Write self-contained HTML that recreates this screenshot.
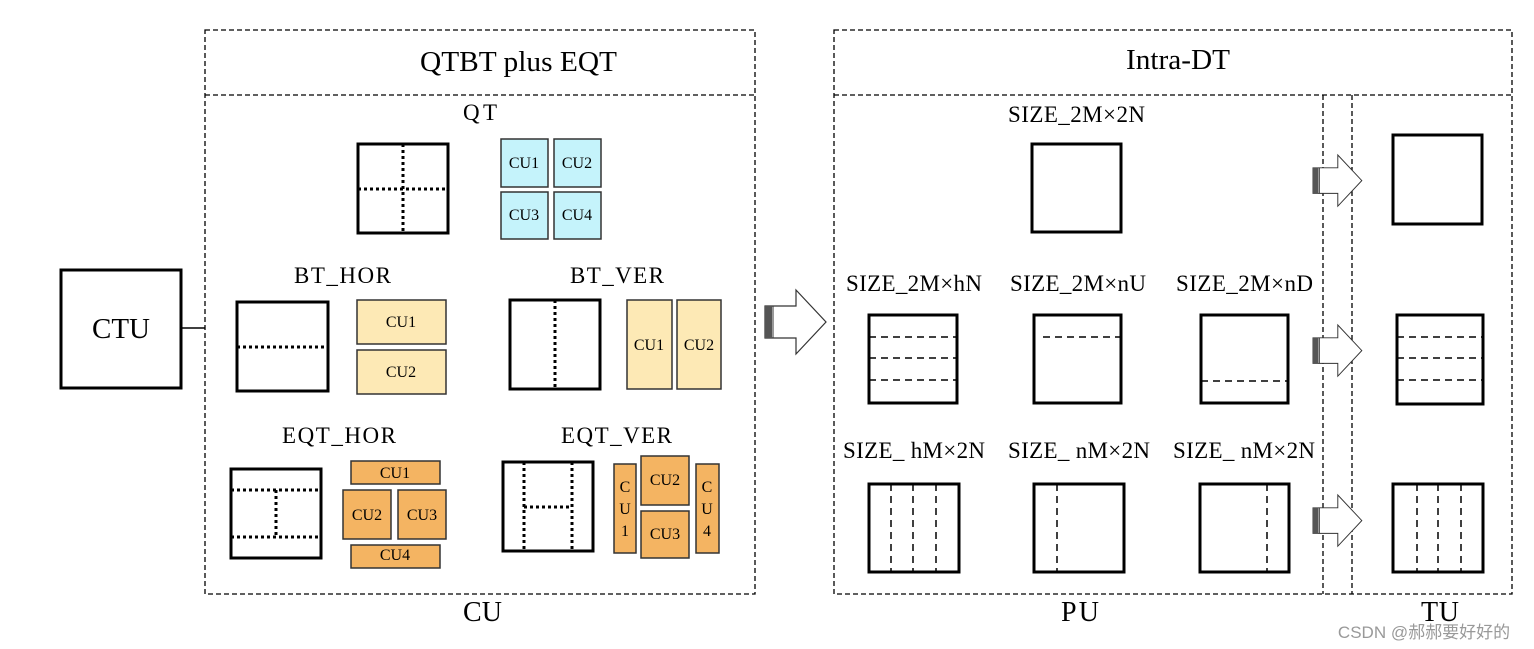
<!DOCTYPE html>
<html><head><meta charset="utf-8"><style>
html,body{margin:0;padding:0;background:#fff;}
svg{display:block;}
text{font-family:"Liberation Serif",serif;fill:#000;}
</style></head><body>
<svg width="1534" height="649" viewBox="0 0 1534 649" xmlns="http://www.w3.org/2000/svg">
<defs>
<g id="arr">
<polygon points="0,16 31,16 31,0 61,32 31,64 31,48 0,48" fill="#fff" stroke="#333" stroke-width="1.2"/>
<rect x="0" y="16" width="7" height="32" fill="#555"/>
<line x1="8" y1="16" x2="8" y2="48" stroke="#333" stroke-width="1"/>
</g>
</defs>
<g fill="none" stroke="#000" stroke-width="1.3" stroke-dasharray="5,3">
<rect x="205" y="30" width="550" height="564"/>
<line x1="205" y1="95" x2="755" y2="95"/>
<rect x="834" y="30" width="678" height="564"/>
<line x1="834" y1="95" x2="1512" y2="95"/>
<line x1="1323" y1="95" x2="1323" y2="594"/>
<line x1="1352" y1="95" x2="1352" y2="594"/>
</g>
<text x="420" y="71" font-size="28" textLength="197" lengthAdjust="spacingAndGlyphs">QTBT plus EQT</text>
<text x="1126" y="69" font-size="28" textLength="104" lengthAdjust="spacingAndGlyphs">Intra-DT</text>
<rect x="61" y="270" width="120" height="118" fill="none" stroke="#000" stroke-width="3"/>
<text x="92" y="338" font-size="28" textLength="58" lengthAdjust="spacingAndGlyphs">CTU</text>
<line x1="181" y1="328" x2="205" y2="328" stroke="#000" stroke-width="1.5"/>

<g font-size="23" lengthAdjust="spacingAndGlyphs">
<text x="463" y="120" textLength="34">QT</text>
<text x="294" y="283" textLength="97">BT_HOR</text>
<text x="570" y="283" textLength="94">BT_VER</text>
<text x="282" y="443" textLength="114">EQT_HOR</text>
<text x="561" y="443" textLength="111">EQT_VER</text>
<text x="463" y="621" font-size="28" textLength="39">CU</text>
<text x="1061" y="621" font-size="28" textLength="38">PU</text>
<text x="1421" y="621" font-size="28" textLength="38">TU</text>
<text x="1008" y="122" textLength="137">SIZE_2M×2N</text>
<text x="846" y="291" textLength="136">SIZE_2M×hN</text>
<text x="1010" y="291" textLength="136">SIZE_2M×nU</text>
<text x="1176" y="291" textLength="137">SIZE_2M×nD</text>
<text x="843" y="458" textLength="142">SIZE_ hM×2N</text>
<text x="1008" y="458" textLength="142">SIZE_ nM×2N</text>
<text x="1173" y="458" textLength="142">SIZE_ nM×2N</text>
</g>

<g fill="none" stroke="#000" stroke-width="3">
<rect x="358" y="144" width="90" height="89"/>
<rect x="237" y="302" width="91" height="89"/>
<rect x="510" y="300" width="90" height="89"/>
<rect x="231" y="469" width="90" height="89"/>
<rect x="503" y="462" width="90" height="89"/>
<rect x="1032" y="144" width="89" height="88"/>
<rect x="869" y="315" width="88" height="88"/>
<rect x="1034" y="315" width="87" height="88"/>
<rect x="1201" y="315" width="87" height="88"/>
<rect x="869" y="484" width="90" height="88"/>
<rect x="1034" y="484" width="90" height="88"/>
<rect x="1200" y="484" width="89" height="88"/>
<rect x="1393" y="135" width="89" height="89"/>
<rect x="1397" y="315" width="86" height="89"/>
<rect x="1393" y="484" width="90" height="88"/>
</g>
<g fill="none" stroke="#000" stroke-width="3" stroke-dasharray="3,3">
<line x1="403" y1="144" x2="403" y2="233"/><line x1="358" y1="189" x2="448" y2="189"/>
<line x1="237" y1="347" x2="328" y2="347"/>
<line x1="555" y1="300" x2="555" y2="389"/>
<line x1="231" y1="490" x2="321" y2="490"/><line x1="231" y1="537" x2="321" y2="537"/><line x1="276" y1="490" x2="276" y2="537"/>
<line x1="524" y1="462" x2="524" y2="551"/><line x1="572" y1="462" x2="572" y2="551"/><line x1="524" y1="507" x2="572" y2="507"/>
</g>
<g fill="none" stroke="#000" stroke-width="1.5" stroke-dasharray="7,5">
<line x1="869" y1="337" x2="957" y2="337"/><line x1="869" y1="358" x2="957" y2="358"/><line x1="869" y1="380" x2="957" y2="380"/>
<line x1="1043" y1="337" x2="1121" y2="337"/>
<line x1="1201" y1="381" x2="1288" y2="381"/>
<line x1="891" y1="484" x2="891" y2="572"/><line x1="913" y1="484" x2="913" y2="572"/><line x1="936" y1="484" x2="936" y2="572"/>
<line x1="1057" y1="484" x2="1057" y2="572"/>
<line x1="1267" y1="484" x2="1267" y2="572"/>
<line x1="1397" y1="337" x2="1483" y2="337"/><line x1="1397" y1="358" x2="1483" y2="358"/><line x1="1397" y1="380" x2="1483" y2="380"/>
<line x1="1417" y1="484" x2="1417" y2="572"/><line x1="1438" y1="484" x2="1438" y2="572"/><line x1="1461" y1="484" x2="1461" y2="572"/>
</g>

<g stroke="#333" stroke-width="1.5" font-size="16" text-anchor="middle">
<g fill="#c5f3fb">
<rect x="501" y="139" width="47" height="48"/><rect x="554" y="139" width="47" height="48"/>
<rect x="501" y="192" width="47" height="47"/><rect x="554" y="192" width="47" height="47"/>
</g>
<g fill="#fde9b5">
<rect x="357" y="300" width="89" height="44"/><rect x="357" y="350" width="89" height="44"/>
<rect x="627" y="300" width="45" height="89"/><rect x="677" y="300" width="44" height="89"/>
</g>
<g fill="#f4b462">
<rect x="351" y="461" width="89" height="23"/><rect x="343" y="490" width="48" height="49"/>
<rect x="398" y="490" width="48" height="49"/><rect x="351" y="545" width="89" height="23"/>
<rect x="614" y="464" width="22" height="89"/><rect x="641" y="456" width="48" height="49"/>
<rect x="641" y="511" width="48" height="47"/><rect x="696" y="464" width="23" height="89"/>
</g>
<g stroke="none">
<text x="524" y="168">CU1</text><text x="577" y="168">CU2</text>
<text x="524" y="220">CU3</text><text x="577" y="220">CU4</text>
<text x="401" y="327">CU1</text><text x="401" y="377">CU2</text>
<text x="649" y="350">CU1</text><text x="699" y="350">CU2</text>
<text x="395" y="478">CU1</text><text x="367" y="520">CU2</text><text x="422" y="520">CU3</text><text x="395" y="560">CU4</text>
<text x="665" y="485">CU2</text><text x="665" y="539">CU3</text>
<text x="625" y="492">C</text><text x="625" y="514">U</text><text x="625" y="536">1</text>
<text x="707" y="492">C</text><text x="707" y="514">U</text><text x="707" y="536">4</text>
</g>
</g>

<use href="#arr" x="765" y="290"/>
<g transform="translate(1313,155) scale(0.8)"><use href="#arr"/></g>
<g transform="translate(1313,325) scale(0.8)"><use href="#arr"/></g>
<g transform="translate(1313,495) scale(0.8)"><use href="#arr"/></g>

<text x="1424" y="638" font-size="17" text-anchor="middle" style="font-family:'Liberation Sans','Noto Sans CJK SC',sans-serif;fill:#999">CSDN @郝郝要好好的</text>
</svg>
</body></html>
